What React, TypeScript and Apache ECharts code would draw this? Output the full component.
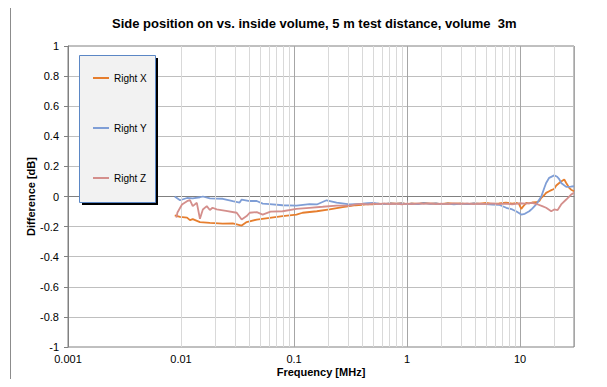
import React, { useEffect, useRef } from "react";
import * as echarts from "echarts";

// Frequency [MHz] / difference [dB] pairs for each receiving direction
const rightXFreq = [0.0088, 0.0098, 0.0113, 0.012, 0.0127, 0.0147, 0.018, 0.0234, 0.0287, 0.0344, 0.0381, 0.0468, 0.0608, 0.0793, 0.105, 0.119, 0.159, 0.206, 0.269, 0.31, 0.35, 0.4, 0.45, 0.5, 0.56, 0.63, 0.7, 0.8, 0.9, 1.0, 1.1, 1.25, 1.4, 1.6, 1.8, 2.0, 2.3, 2.6, 3.0, 3.4, 3.9, 4.4, 5.0, 5.7, 6.5, 7.5, 8.5, 9.4, 9.8, 10.25, 10.8, 11.35, 12.0, 12.8, 13.9, 14.8, 15.4, 16.4, 17.0, 18.1, 18.9, 20.0, 20.9, 22.2, 23.1, 24.6, 25.6, 27.2, 28.3, 30];
const rightXDiff = [-0.126, -0.135, -0.14, -0.157, -0.15, -0.17, -0.175, -0.18, -0.178, -0.193, -0.17, -0.153, -0.142, -0.13, -0.12, -0.108, -0.098, -0.086, -0.071, -0.064, -0.058, -0.055, -0.05, -0.052, -0.047, -0.05, -0.045, -0.048, -0.044, -0.05, -0.046, -0.049, -0.043, -0.048, -0.045, -0.05, -0.044, -0.048, -0.046, -0.05, -0.045, -0.048, -0.043, -0.049, -0.045, -0.04, -0.047, -0.043, -0.05, -0.082, -0.06, -0.042, -0.045, -0.04, -0.038, -0.03, -0.009, 0.01, 0.024, 0.035, 0.042, 0.05, 0.073, 0.09, 0.1, 0.113, 0.09, 0.058, 0.045, 0.035];

const rightYFreq = [0.0088, 0.0098, 0.0113, 0.0127, 0.0147, 0.0156, 0.018, 0.0234, 0.0287, 0.033, 0.0344, 0.0405, 0.0468, 0.0528, 0.0608, 0.0793, 0.105, 0.137, 0.159, 0.194, 0.238, 0.31, 0.35, 0.4, 0.45, 0.5, 0.56, 0.63, 0.7, 0.8, 0.9, 1.0, 1.1, 1.25, 1.4, 1.6, 1.8, 2.0, 2.3, 2.6, 3.0, 3.4, 3.9, 4.4, 5.0, 5.7, 6.5, 7.55, 8.53, 9.3, 10.25, 11.0, 12.06, 12.8, 13.9, 15.4, 16.4, 17.0, 18.1, 20.05, 21.3, 22.2, 23.1, 25.6, 28.0, 30];
const rightYDiff = [0.0, -0.025, -0.01, -0.012, -0.005, 0.0, -0.012, -0.015, -0.03, -0.04, -0.02, -0.03, -0.03, -0.047, -0.05, -0.058, -0.06, -0.05, -0.053, -0.025, -0.04, -0.053, -0.05, -0.048, -0.044, -0.042, -0.047, -0.05, -0.045, -0.049, -0.046, -0.051, -0.047, -0.05, -0.044, -0.049, -0.046, -0.05, -0.047, -0.052, -0.048, -0.05, -0.046, -0.049, -0.051, -0.054, -0.055, -0.075, -0.086, -0.1, -0.12, -0.115, -0.098, -0.08, -0.053, 0.0, 0.058, 0.09, 0.124, 0.14, 0.131, 0.115, 0.09, 0.064, 0.066, 0.068];

const rightZFreq = [0.0091, 0.0093, 0.0102, 0.0113, 0.012, 0.0127, 0.0138, 0.0147, 0.0156, 0.0169, 0.018, 0.019, 0.0207, 0.025, 0.0311, 0.0344, 0.0381, 0.0405, 0.0468, 0.0528, 0.062, 0.0793, 0.105, 0.137, 0.179, 0.238, 0.31, 0.35, 0.4, 0.45, 0.5, 0.56, 0.63, 0.7, 0.8, 0.9, 1.0, 1.1, 1.25, 1.4, 1.6, 1.8, 2.0, 2.3, 2.6, 3.0, 3.4, 3.9, 4.4, 5.0, 5.7, 6.5, 7.5, 8.5, 9.84, 11.3, 12.82, 14.0, 15.7, 17.0, 18.87, 20.05, 21.5, 23.1, 25.6, 28.3, 30];
const rightZDiff = [-0.14, -0.106, -0.053, -0.031, -0.024, -0.064, -0.042, -0.148, -0.086, -0.064, -0.09, -0.075, -0.086, -0.095, -0.108, -0.153, -0.13, -0.108, -0.104, -0.12, -0.1, -0.098, -0.082, -0.075, -0.068, -0.06, -0.06, -0.052, -0.049, -0.053, -0.047, -0.051, -0.046, -0.05, -0.047, -0.052, -0.048, -0.05, -0.045, -0.049, -0.046, -0.05, -0.047, -0.051, -0.046, -0.049, -0.045, -0.05, -0.047, -0.05, -0.046, -0.05, -0.048, -0.052, -0.045, -0.047, -0.042, -0.05, -0.064, -0.075, -0.098, -0.086, -0.09, -0.053, -0.02, 0.013, 0.024];

const seriesNames = ["Right X", "Right Y", "Right Z"];
const seriesColors = ["#e67e2e", "#7f9ed6", "#d48f8c"];

// Intermediate log-decade gridlines (2..9 per decade, plus 20 MHz)
const minorGridFreqs: number[] = [];
for (let k = -3; k <= 0; k++) {
  for (let m = 2; m <= 9; m++) minorGridFreqs.push(Number((m * Math.pow(10, k)).toPrecision(2)));
}
minorGridFreqs.push(20);

const FONT = 'Arial, "Liberation Sans", sans-serif';

const pairs = (xs: number[], ys: number[]) => xs.map((x, i) => [x, ys[i]]);

export default function App() {
  const ref = useRef<HTMLDivElement>(null);

  useEffect(() => {
    if (!ref.current) return;
    const chart = echarts.init(ref.current, undefined, { renderer: "svg" });
    const data = [
      pairs(rightXFreq, rightXDiff),
      pairs(rightYFreq, rightYDiff),
      pairs(rightZFreq, rightZDiff),
    ];
    chart.setOption({
      animation: false,
      backgroundColor: "#ffffff",
      title: {
        text: "Side position on vs. inside volume, 5 m test distance, volume  3m",
        left: 107,
        top: 12,
        textStyle: { fontFamily: FONT, fontSize: 13, fontWeight: "bold", color: "#000" },
      },
      grid: {
        left: 68,
        right: 33,
        top: 46,
        bottom: 40,
        show: true,
        borderColor: "#808080",
        borderWidth: 1,
        backgroundColor: "transparent",
      },
      graphic: [
        {
          type: "rect",
          z: 0,
          silent: true,
          shape: { x: 10.5, y: 5.5, width: 700, height: 378 },
          style: { fill: "none", stroke: "#8c8c8c", lineWidth: 1 },
        },
        {
          type: "rect",
          z: 50,
          silent: true,
          shape: { x: 82, y: 58, width: 76, height: 147 },
          style: { fill: "#000000" },
        },
        {
          type: "rect",
          z: 51,
          silent: true,
          shape: { x: 79.5, y: 55.5, width: 76, height: 147 },
          style: { fill: "#f2f2f2", stroke: "#5b87c5", lineWidth: 1 },
        },
      ],
      legend: {
        z: 100,
        orient: "vertical",
        left: 93,
        top: 72,
        padding: 0,
        itemGap: 38,
        itemWidth: 16,
        itemHeight: 2,
        icon: "rect",
        selectedMode: false,
        data: seriesNames,
        textStyle: { fontFamily: FONT, fontSize: 10, color: "#000", lineHeight: 12 },
      },
      xAxis: {
        type: "log",
        logBase: 10,
        min: 0.001,
        max: 30,
        name: "Frequency [MHz]",
        nameLocation: "middle",
        nameGap: 19,
        nameMoveOverlap: false,
        nameTextStyle: { fontFamily: FONT, fontSize: 11, fontWeight: "bold", color: "#000" },
        axisLine: { show: true, lineStyle: { color: "#808080", width: 1 } },
        axisTick: { show: true, length: 4, lineStyle: { color: "#808080" } },
        axisLabel: {
          fontFamily: FONT,
          fontSize: 11,
          color: "#000",
          margin: 6,
          showMaxLabel: false,
          formatter: (v: number) => String(Number(v.toPrecision(3))),
        },
        splitLine: { show: true, lineStyle: { color: "#a6a6a6", width: 1 } },
      },
      yAxis: {
        type: "value",
        min: -1,
        max: 1,
        interval: 0.2,
        name: "Difference [dB]",
        nameLocation: "middle",
        nameGap: 32,
        nameMoveOverlap: false,
        nameRotate: 90,
        nameTextStyle: { fontFamily: FONT, fontSize: 11, fontWeight: "bold", color: "#000" },
        axisLine: { show: true, lineStyle: { color: "#808080", width: 1 } },
        axisTick: { show: true, length: 4, lineStyle: { color: "#808080" } },
        axisLabel: {
          fontFamily: FONT,
          fontSize: 11,
          color: "#000",
          margin: 9,
          formatter: (v: number) => String(Number(v.toFixed(1))),
        },
        splitLine: { show: true, lineStyle: { color: "#bfbfbf", width: 1 } },
      },
      series: [
        {
          name: "grid-minor",
          type: "line",
          z: 1,
          data: [],
          silent: true,
          markLine: {
            silent: true,
            symbol: "none",
            label: { show: false },
            lineStyle: { color: "#d9d9d9", width: 1, type: "solid" },
            data: minorGridFreqs.map((f) => ({ xAxis: f })),
          },
        },
        ...seriesNames.map((name, i) => ({
          name,
          type: "line",
          z: 3 + i,
          data: data[i],
          showSymbol: false,
          symbol: "none",
          color: seriesColors[i],
          lineStyle: { color: seriesColors[i], width: 1.8 },
        })),
      ],
    });
    return () => chart.dispose();
  }, []);

  return <div ref={ref} style={{ width: 607, height: 387, margin: -8 }} />;
}
